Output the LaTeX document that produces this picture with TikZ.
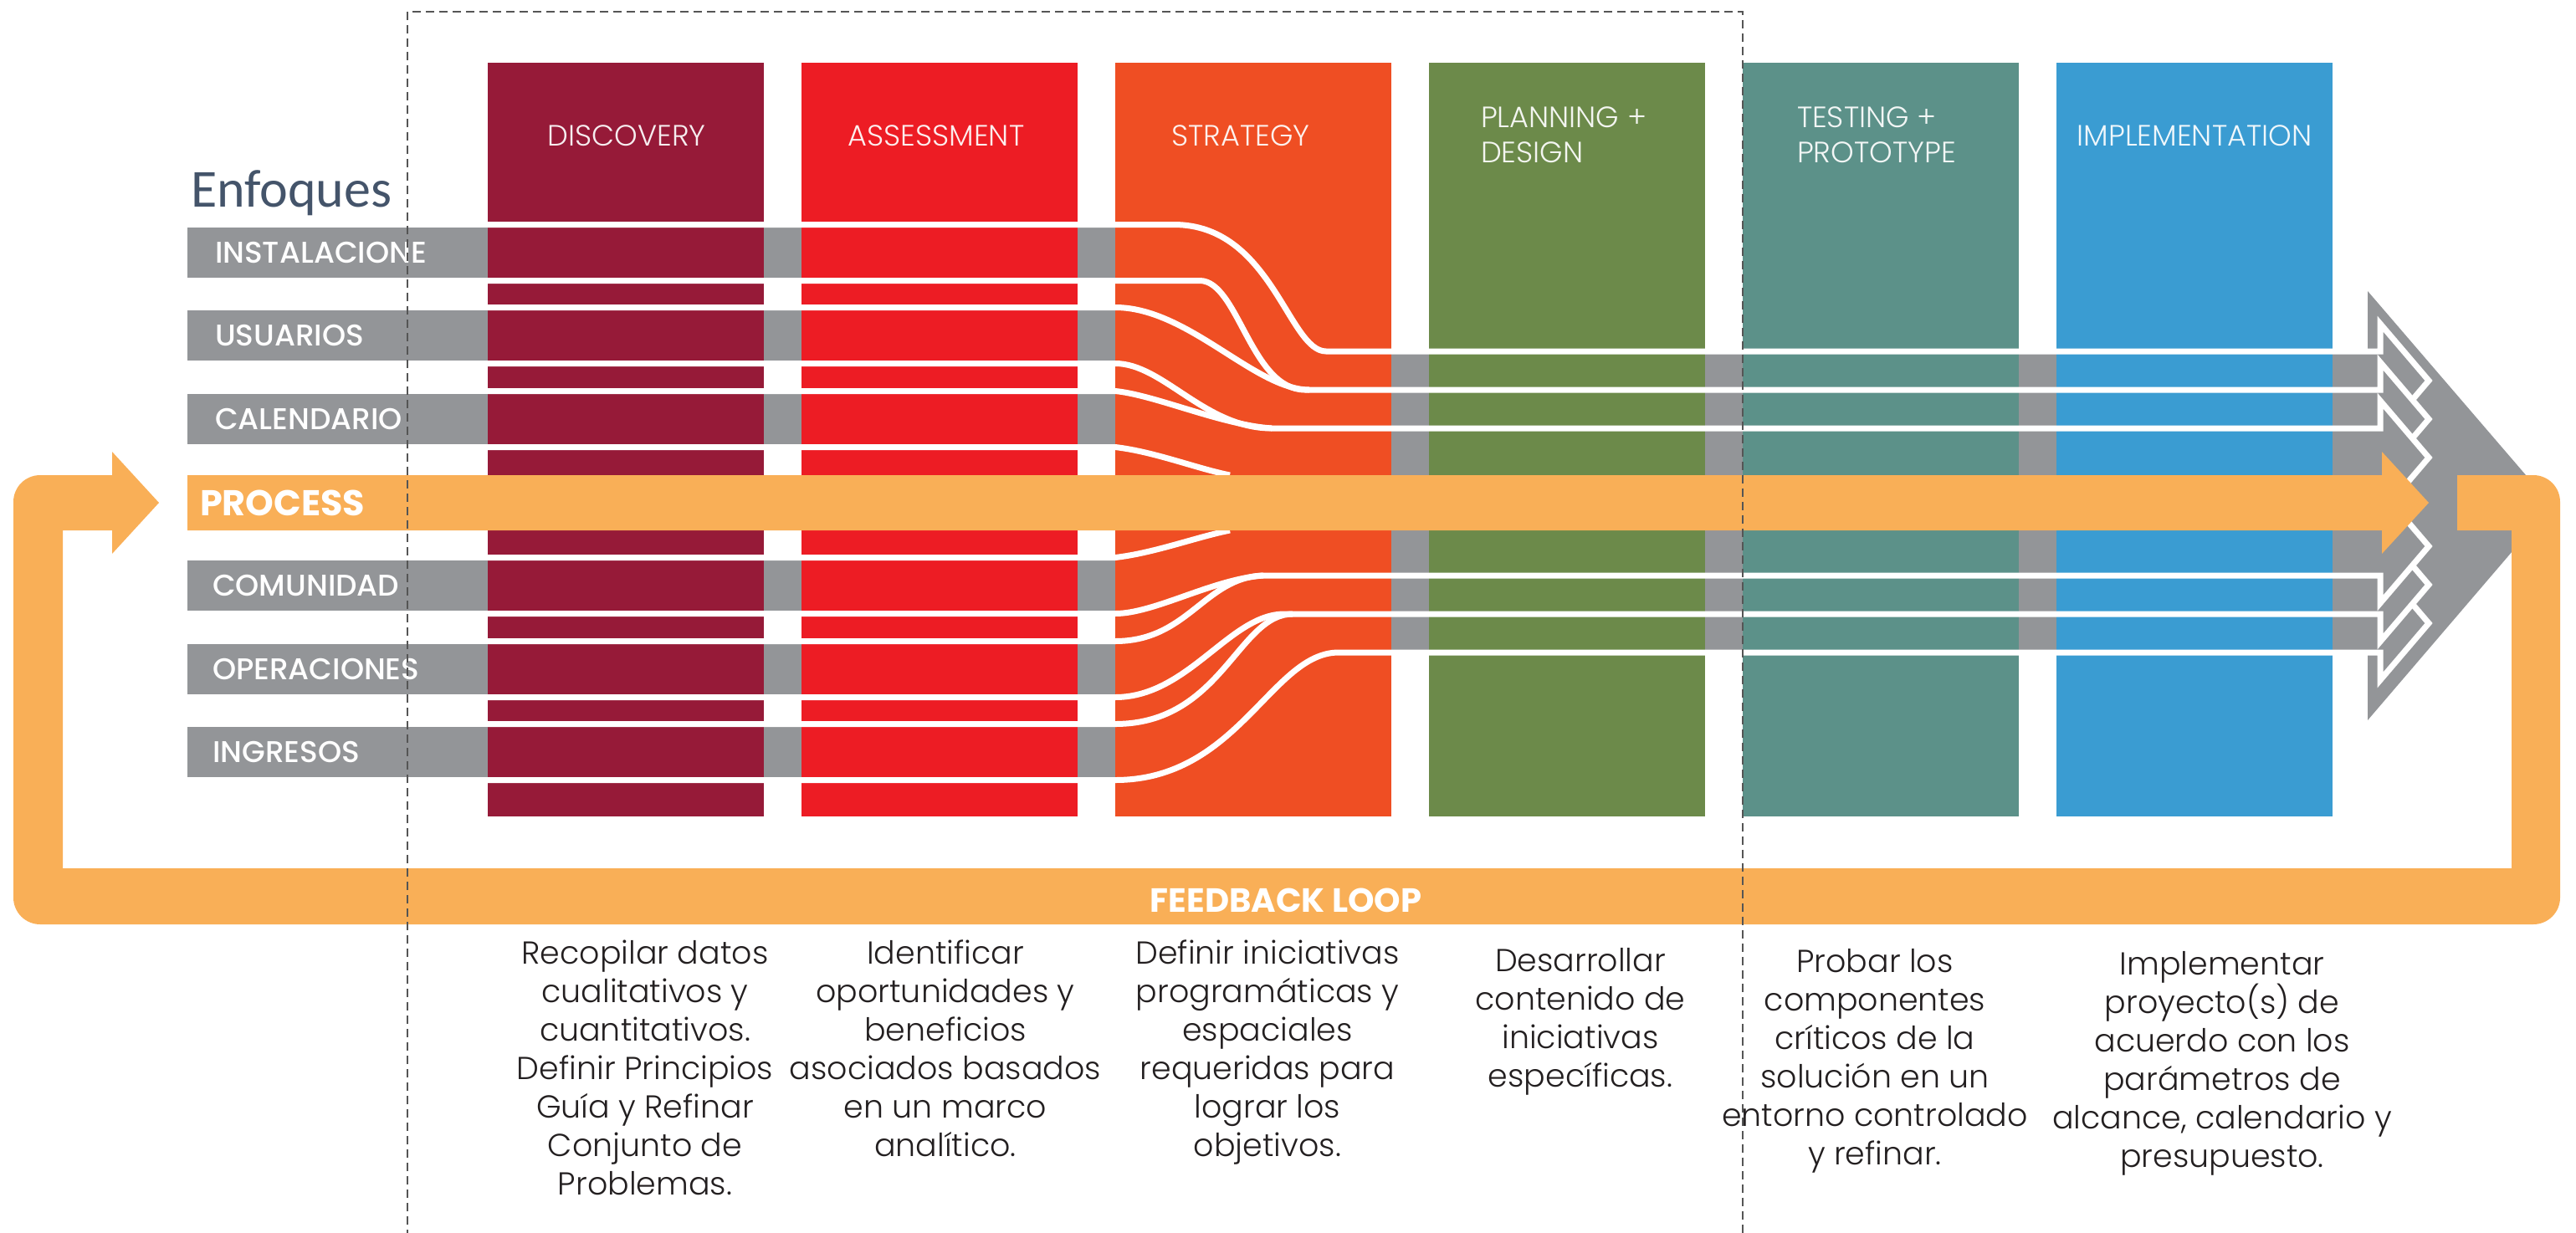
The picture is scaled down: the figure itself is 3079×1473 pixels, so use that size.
\documentclass[tikz,border=0pt]{standalone}
\usepackage{fontspec}
\setmainfont{Poppins}
\newfontfamily\enfont{Carlito}
\newfontfamily\lightfont{Poppins Light}
\newfontfamily\medfont{Poppins Medium}

\definecolor{discov}{HTML}{961A38}
\definecolor{assess}{HTML}{ED1C24}
\definecolor{strat}{HTML}{EF4E23}
\definecolor{plandes}{HTML}{6C8A4A}
\definecolor{testproto}{HTML}{5C9189}
\definecolor{implem}{HTML}{3A9CD2}
\definecolor{bandgray}{HTML}{939598}
\definecolor{loopor}{HTML}{F9AF57}
\definecolor{enfblue}{HTML}{44546A}
\definecolor{framegray}{HTML}{555555}
\definecolor{txtdark}{HTML}{231F20}

\tikzstyle{every node}=[inner sep=0pt, outer sep=0pt]
\tikzstyle{phase}=[rectangle, minimum width=33mm, minimum height=90.1mm]
\tikzstyle{phasename}=[text=white, text opacity=0.92, font=\lightfont\fontsize{10}{11.95}\selectfont]
\tikzstyle{bandbar}=[fill=bandgray]
\tikzstyle{bandedge}=[draw=white, line width=0.7mm]
\tikzstyle{headarrow}=[fill=bandgray, draw=white, line width=0.7mm, line join=miter]
\tikzstyle{bandtag}=[text=white, anchor=base west, font=\medfont\fontsize{10.2}{20}\selectfont]
\tikzstyle{goal}=[align=center, anchor=north, text=txtdark, font=\lightfont\fontsize{10.8}{13.1}\selectfont]
\tikzstyle{frame}=[draw=framegray, line width=0.25mm, dash pattern=on 1mm off 0.6mm]

\begin{document}
\begin{tikzpicture}[x=0.1mm, y=-0.1mm]
  \useasboundingbox (0,0) rectangle (3079,1473);

  % gray bands behind the first phases
  \fill[bandbar] (224,272) rectangle (1333,332);
  \fill[bandbar] (224,371) rectangle (1333,431);
  \fill[bandbar] (224,471) rectangle (1333,531);
  \fill[bandbar] (224,670) rectangle (1333,730);
  \fill[bandbar] (224,770) rectangle (1333,830);
  \fill[bandbar] (224,869) rectangle (1333,929);
  \fill[bandbar] (1663,420) rectangle (2788,780);

  % phases
  \node[phase, fill=discov]    (discovery)      at (748,525.5)  {};
  \node[phase, fill=assess]    (assessment)     at (1123,525.5) {};
  \node[phase, fill=strat]     (strategy)       at (1498,525.5) {};
  \node[phase, fill=plandes]   (planning)       at (1873,525.5) {};
  \node[phase, fill=testproto] (testing)        at (2248,525.5) {};
  \node[phase, fill=implem]    (implementation) at (2623,525.5) {};

  % big gray head
  \fill[bandgray] (2830,348) -- (3050,604) -- (2830,861) -- cycle;

  % band edges
  \draw[bandedge] (583,268.5) -- (1403,268.5) .. controls (1520,268.5) and (1540,420) .. (1585,420) -- (2788,420);
  \draw[bandedge] (583,335.5) -- (1434,335.5) .. controls (1480,335.5) and (1495,466) .. (1560,466) -- (2788,466);
  \draw[bandedge] (583,367.5) -- (1333,367.5) .. controls (1420,367.5) and (1500,466) .. (1565,466);
  \draw[bandedge] (583,434.5) -- (1333,434.5) .. controls (1390,434.5) and (1440,512) .. (1520,512) -- (2788,512);
  \draw[bandedge] (583,467.5) -- (1333,467.5) .. controls (1380,472) and (1460,508) .. (1520,512);
  \draw[bandedge] (583,534.5) -- (1333,534.5) .. controls (1380,540) and (1430,560) .. (1470,568);
  \draw[bandedge] (583,666.5) -- (1333,666.5) .. controls (1380,661) and (1430,642) .. (1470,634);
  \draw[bandedge] (583,733.5) -- (1333,733.5) .. controls (1380,733.5) and (1450,692) .. (1510,688) -- (2788,688);
  \draw[bandedge] (583,766.5) -- (1333,766.5) .. controls (1420,766.5) and (1440,690) .. (1510,688);
  \draw[bandedge] (583,833.5) -- (1333,833.5) .. controls (1420,833.5) and (1470,734) .. (1535,734) -- (2788,734);
  \draw[bandedge] (583,865.5) -- (1333,865.5) .. controls (1460,865.5) and (1480,734) .. (1545,734);
  \draw[bandedge] (583,932.5) -- (1333,932.5) .. controls (1480,932.5) and (1520,780) .. (1600,780) -- (2788,780);

  % outlined heads
  \filldraw[headarrow] (2788,420) -- (2845,420) -- (2845,387) -- (2903,455) -- (2845,523) -- (2845,490) -- (2788,490);
  \filldraw[headarrow] (2788,466) -- (2845,466) -- (2845,433) -- (2903,501) -- (2845,569) -- (2845,536) -- (2788,536);
  \filldraw[headarrow] (2788,512) -- (2845,512) -- (2845,479) -- (2903,547) -- (2845,615) -- (2845,582) -- (2788,582);
  \filldraw[headarrow] (2788,780) -- (2845,780) -- (2845,813) -- (2903,745) -- (2845,677) -- (2845,710) -- (2788,710);
  \filldraw[headarrow] (2788,734) -- (2845,734) -- (2845,767) -- (2903,699) -- (2845,631) -- (2845,664) -- (2788,664);
  \filldraw[headarrow] (2788,688) -- (2845,688) -- (2845,721) -- (2903,653) -- (2845,585) -- (2845,618) -- (2788,618);

  % process arrow
  \fill[loopor] (224,568) -- (2847,568) -- (2847,540) -- (2903,601) -- (2847,662) -- (2847,634) -- (224,634) -- cycle;

  % feedback loop
  \fill[loopor] (2937,568) -- (3028,568) arc[start angle=90, end angle=0, radius=3.2mm]
    -- (3060,1073) arc[start angle=0, end angle=-90, radius=3.2mm]
    -- (48,1105) arc[start angle=270, end angle=180, radius=3.2mm]
    -- (16,600) arc[start angle=180, end angle=90, radius=3.2mm]
    -- (134,568) -- (134,540) -- (190,601) -- (134,662) -- (134,634) -- (75,634)
    -- (75,1038) -- (3002,1038) -- (3002,634) -- (2937,634) -- cycle;

  % titles
  \node[anchor=base west, text=enfblue, font=\enfont\fontsize{18.2}{22}\selectfont] (enfoques) at (228,247) {Enfoques};
  \node[phasename, anchor=base] (discname)  at (749,174)  {DISCOVERY};
  \node[phasename, anchor=base] (assessname) at (1119,174) {ASSESSMENT};
  \node[phasename, anchor=base] (stratname) at (1483,174) {STRATEGY};
  \node[phasename, anchor=north west, align=left] (planname) at (1770,128) {PLANNING +\\DESIGN};
  \node[phasename, anchor=north west, align=left] (testname) at (2148,128) {TESTING +\\PROTOTYPE};
  \node[phasename, anchor=base] (implname)  at (2623,174) {IMPLEMENTATION};

  % band labels
  \node[bandtag] (tagins) at (257,314) {INSTALACIONE};
  \node[bandtag] (tagins2) at (257,359) {S};
  \node[bandtag] (tagusu) at (257,413) {USUARIOS};
  \node[bandtag] (tagcal) at (257,513) {CALENDARIO};
  \node[bandtag] (tagcom) at (254,712) {COMUNIDAD};
  \node[bandtag] (tagope) at (254,812) {OPERACIONES};
  \node[bandtag] (taging) at (254,911) {INGRESOS};
  \node[anchor=base west, text=white, font=\bfseries\fontsize{12.2}{14}\selectfont] (tagproc) at (239,616) {PROCESS};
  \node[anchor=base, text=white, font=\bfseries\fontsize{11.4}{14}\selectfont] (tagloop) at (1537,1090) {FEEDBACK LOOP};

  % descriptions
  \node[goal] (goaldisc) at (771,1124) {Recopilar datos\\cualitativos y\\cuantitativos.\\Definir Principios\\Guía y Refinar\\Conjunto de\\Problemas.};
  \node[goal] (goalass) at (1130,1124) {Identificar\\oportunidades y\\beneficios\\asociados basados\\en un marco\\analítico.};
  \node[goal] (goalstr) at (1515,1124) {Definir iniciativas\\programáticas y\\espaciales\\requeridas para\\lograr los\\objetivos.};
  \node[goal] (goalplan) at (1889,1133) {Desarrollar\\contenido de\\iniciativas\\específicas.};
  \node[goal] (goaltest) at (2241,1134) {Probar los\\componentes\\críticos de la\\solución en un\\entorno controlado\\y refinar.};
  \node[goal] (goalimpl) at (2656,1137) {Implementar\\proyecto(s) de\\acuerdo con los\\parámetros de\\alcance, calendario y\\presupuesto.};

  % dashed frame
  \draw[frame] (487,1480) -- (487,14) -- (2083,14) -- (2083,1480);
\end{tikzpicture}
\end{document}
